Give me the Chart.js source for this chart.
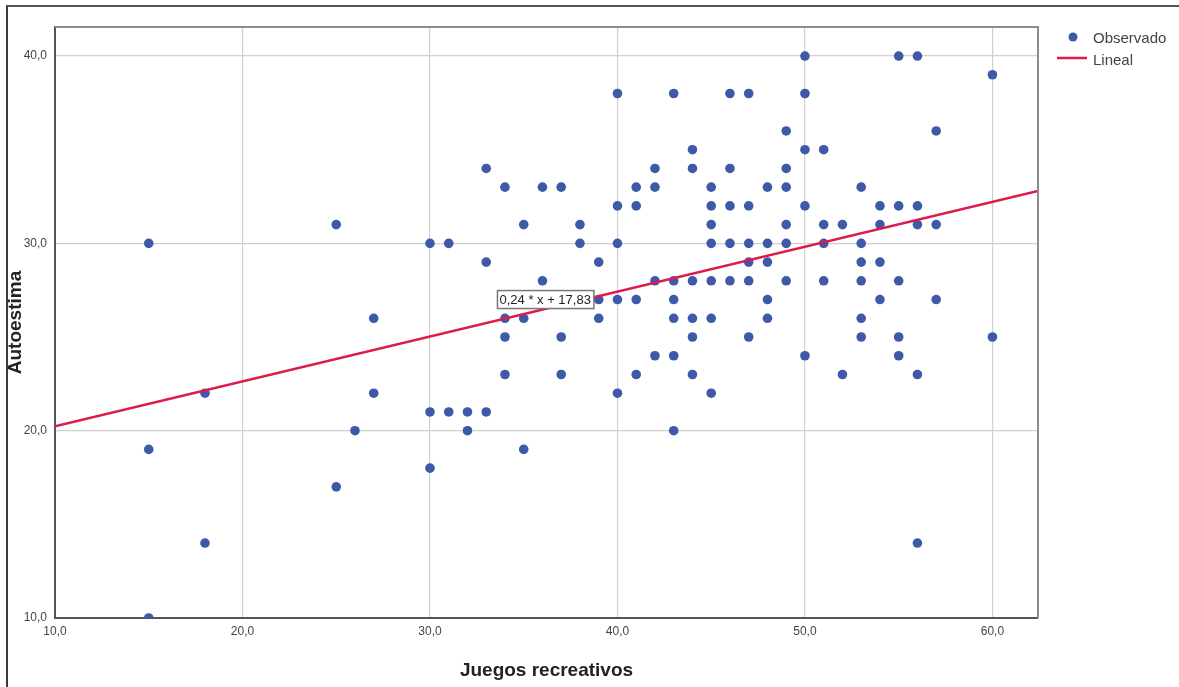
<!DOCTYPE html>
<html>
<head>
<meta charset="utf-8">
<script src="https://cdn.jsdelivr.net/npm/chart.js@4/dist/chart.umd.min.js"></script>
<style>
  html, body { margin: 0; padding: 0; background: #fff; }
  #wrap { position: relative; width: 1179px; height: 687px; overflow: hidden; }
  #frame { position: absolute; left: 6px; top: 5px; right: -4px; bottom: -4px;
           border-left: 2px solid #3a3a3a; border-top: 2px solid #555; }
  #chart { position: absolute; left: 0; top: 0; }
</style>
</head>
<body>
<div id="wrap">
  <div id="frame"></div>
  <canvas id="chart" width="1179" height="687"></canvas>
</div>
<script>
// Observed points, one entry per case (x = Juegos recreativos, y = Autoestima)
const juegos = [
  15, 15, 15,  18, 18,  25, 25,  26,  27, 27,
  30, 30, 30,  31, 31,  32, 32,  33, 33, 33,
  34, 34, 34, 34,  35, 35, 35,  36, 36,  37, 37, 37,
  38, 38,  39, 39, 39,  40, 40, 40, 40, 40,
  41, 41, 41, 41,  42, 42, 42, 42,
  43, 43, 43, 43, 43, 43,  44, 44, 44, 44, 44, 44,
  45, 45, 45, 45, 45, 45, 45,  46, 46, 46, 46, 46,
  47, 47, 47, 47, 47, 47,  48, 48, 48, 48, 48,
  49, 49, 49, 49, 49, 49,  50, 50, 50, 50, 50,
  51, 51, 51, 51,  52, 52,  53, 53, 53, 53, 53, 53,
  54, 54, 54, 54,  55, 55, 55, 55, 55,  56, 56, 56, 56, 56,
  57, 57, 57,  60, 60
];
const autoestima = [
  30, 19, 10,  22, 14,  31, 17,  20,  26, 22,
  30, 21, 18,  30, 21,  21, 20,  34, 29, 21,
  33, 26, 25, 23,  31, 26, 19,  33, 28,  33, 25, 23,
  31, 30,  29, 27, 26,  38, 32, 30, 27, 22,
  33, 32, 27, 23,  34, 33, 28, 24,
  38, 28, 27, 26, 24, 20,  35, 34, 28, 26, 25, 23,
  33, 32, 31, 30, 28, 26, 22,  38, 34, 32, 30, 28,
  38, 32, 30, 29, 28, 25,  33, 30, 29, 27, 26,
  36, 34, 33, 31, 30, 28,  40, 38, 35, 32, 24,
  35, 31, 30, 28,  31, 23,  33, 30, 29, 28, 26, 25,
  32, 31, 29, 27,  40, 32, 28, 25, 24,  40, 32, 31, 23, 14,
  36, 31, 27,  39, 25
];

// Fitted line (Lineal), read at the two ends of the plot
const fitX = [10, 62.43];
const fitY = [20.23, 32.8];
const fitLabel = "0,24 * x + 17,83";
const fitLabelAt = { x: 33.6, y: 27 };

const xTicks = [10, 20, 30, 40, 50, 60];
const yTicks = [10, 20, 30, 40];

const observed = juegos.map((x, i) => ({ x: x, y: autoestima[i] }));
const fitted = fitX.map((x, i) => ({ x: x, y: fitY[i] }));

function fmt(v) { return v.toFixed(1).replace(".", ","); }

// equation box, plot frame and legend
const overlay = {
  id: "overlay",
  afterDraw(chart) {
    const ctx = chart.ctx;
    const a = chart.chartArea;
    const xs = chart.scales.x, ys = chart.scales.y;
    ctx.save();

    // top + right frame of the plot
    ctx.strokeStyle = "#8c8c8c";
    ctx.lineWidth = 2;
    ctx.beginPath();
    ctx.moveTo(a.left, a.top);
    ctx.lineTo(a.right, a.top);
    ctx.lineTo(a.right, a.bottom);
    ctx.stroke();

    // equation label
    ctx.font = "13px 'Liberation Sans', Arial, sans-serif";
    const tw = ctx.measureText(fitLabel).width;
    const bx = xs.getPixelForValue(fitLabelAt.x);
    const by = ys.getPixelForValue(fitLabelAt.y);
    ctx.fillStyle = "#fff";
    ctx.fillRect(bx, by - 9, tw + 5, 18);
    ctx.strokeStyle = "#777";
    ctx.lineWidth = 1.5;
    ctx.strokeRect(bx, by - 9, tw + 5, 18);
    ctx.fillStyle = "#222";
    ctx.textBaseline = "middle";
    ctx.fillText(fitLabel, bx + 2, by + 1);

    // legend
    ctx.font = "15px 'Liberation Sans', Arial, sans-serif";
    ctx.fillStyle = "#3d5aa8";
    ctx.beginPath();
    ctx.arc(1073, 37, 4.5, 0, Math.PI * 2);
    ctx.fill();
    ctx.fillStyle = "#444";
    ctx.fillText("Observado", 1093, 39);
    ctx.strokeStyle = "#e0194b";
    ctx.lineWidth = 2.5;
    ctx.beginPath();
    ctx.moveTo(1057, 58);
    ctx.lineTo(1087, 58);
    ctx.stroke();
    ctx.fillStyle = "#444";
    ctx.fillText("Lineal", 1093, 61);
    ctx.restore();
  }
};

new Chart(document.getElementById("chart").getContext("2d"), {
  type: "scatter",
  data: {
    datasets: [
      {
        label: "Lineal",
        data: fitted,
        showLine: true,
        borderColor: "#e0194b",
        borderWidth: 2.5,
        pointRadius: 0,
        order: 0
      },
      {
        label: "Observado",
        data: observed,
        pointRadius: 4.8,
        pointBorderWidth: 0,
        backgroundColor: "#3d5aa8",
        borderColor: "#3d5aa8",
        order: 1
      }
    ]
  },
  options: {
    responsive: false,
    animation: false,
    devicePixelRatio: 1,
    layout: { padding: { top: 27, right: 141, left: 0, bottom: 0 } },
    plugins: { legend: { display: false }, tooltip: { enabled: false } },
    scales: {
      x: {
        type: "linear",
        min: 10,
        max: 62.43,
        afterBuildTicks: axis => { axis.ticks = xTicks.map(v => ({ value: v })); },
        afterFit: axis => { axis.height = 69; },
        ticks: {
          callback: v => fmt(v),
          font: { size: 12, family: "'Liberation Sans', Arial, sans-serif" },
          color: "#444",
          padding: 6,
          maxRotation: 0
        },
        grid: { color: "#d0d0d0", lineWidth: 1.2, drawTicks: false },
        border: { color: "#555", width: 2 },
        title: {
          display: true,
          text: "Juegos recreativos",
          color: "#222",
          font: { size: 19, weight: "bold", family: "'Liberation Sans', Arial, sans-serif" },
          padding: { top: 0, bottom: 5 }
        }
      },
      y: {
        type: "linear",
        min: 10,
        max: 41.55,
        afterBuildTicks: axis => { axis.ticks = yTicks.map(v => ({ value: v })); },
        afterFit: axis => { axis.width = 55; },
        ticks: {
          callback: v => fmt(v),
          font: { size: 12, family: "'Liberation Sans', Arial, sans-serif" },
          color: "#444",
          padding: 8
        },
        grid: { color: "#d0d0d0", lineWidth: 1.2, drawTicks: false },
        border: { color: "#555", width: 2 },
        title: {
          display: true,
          text: "Autoestima",
          color: "#222",
          font: { size: 19, weight: "bold", family: "'Liberation Sans', Arial, sans-serif" },
          padding: { top: 4, bottom: 0 }
        }
      }
    }
  },
  plugins: [overlay]
});
</script>
</body>
</html>
